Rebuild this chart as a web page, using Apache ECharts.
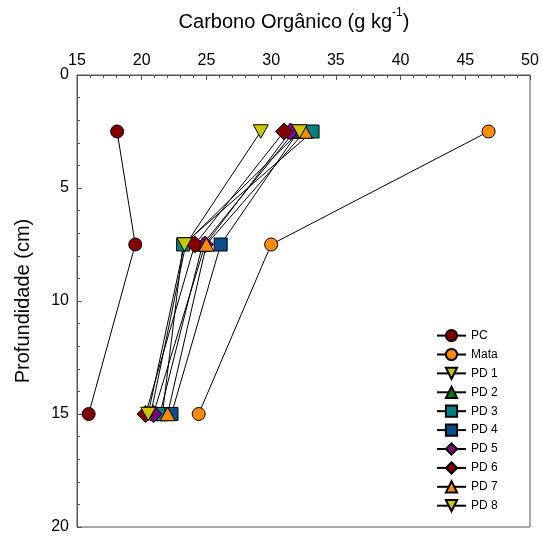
<!DOCTYPE html>
<html>
<head>
<meta charset="utf-8">
<script src="https://cdn.jsdelivr.net/npm/echarts@6/dist/echarts.min.js"></script>
<style>
  html, body { margin: 0; padding: 0; background: #fff; }
  #chart { width: 543px; height: 540px; }
</style>
</head>
<body>
<div id="chart"></div>
<script>
// Depths of the sampled layers (cm)
const depths = [2.5, 7.5, 15];

// Organic carbon (g kg-1) at each depth, per treatment
const seriesNames = ['PC', 'Mata', 'PD 1', 'PD 2', 'PD 3', 'PD 4', 'PD 5', 'PD 6', 'PD 7', 'PD 8'];
const PC   = [18.1, 19.5, 15.9];
const Mata = [46.8, 30.0, 24.4];
const PD1  = [29.2, 23.4, 20.7];
const PD2  = [31.8, 24.7, 21.4];
const PD3  = [33.2, 23.2, 21.6];
const PD4  = [32.1, 26.1, 22.3];
const PD5  = [31.5, 24.9, 20.9];
const PD6  = [31.0, 24.1, 20.3];
const PD7  = [32.6, 25.0, 22.0];
const PD8  = [32.2, 23.3, 20.5];

const xTicks = [15, 20, 25, 30, 35, 40, 45, 50];
const yTicks = [0, 5, 10, 15, 20];

const FONT = 'Liberation Sans, Arial, sans-serif';
const triDown = 'path://M0,0 L10,0 L5,9 Z';
const triUp = 'path://M5,0 L10,9 L0,9 Z';

const styles = [
  { sym: 'circle',  size: 13, color: '#800000' },
  { sym: 'circle',  size: 13, color: '#ff8c00' },
  { sym: triDown,   size: 15, color: '#c8c800' },
  { sym: triUp,     size: 15, color: '#008000' },
  { sym: 'rect',    size: 13, color: '#008080' },
  { sym: 'rect',    size: 13, color: '#0a4f8c' },
  { sym: 'diamond', size: 17, color: '#800080' },
  { sym: 'diamond', size: 17, color: '#800000' },
  { sym: triUp,     size: 15, color: '#ff8c00' },
  { sym: triDown,   size: 15, color: '#c8c800' }
];
const values = [PC, Mata, PD1, PD2, PD3, PD4, PD5, PD6, PD7, PD8];

const series = values.map((vals, i) => ({
  name: seriesNames[i],
  type: 'line',
  data: vals.map((v, j) => [v, depths[j]]),
  symbol: styles[i].sym,
  symbolSize: styles[i].size,
  symbolKeepAspect: true,
  lineStyle: { color: '#000', width: 1 },
  itemStyle: { color: styles[i].color, borderColor: '#000', borderWidth: 1, opacity: 1 },
  emphasis: { disabled: true },
  animation: false
}));

const chart = echarts.init(document.getElementById('chart'), null, { renderer: 'canvas' });
chart.setOption({
  backgroundColor: '#fff',
  animation: false,
  textStyle: { fontFamily: FONT },
  grid: {
    left: 77, top: 75, right: 13, bottom: 13,
    show: true, borderColor: '#555', borderWidth: 1, backgroundColor: 'transparent'
  },
  title: {
    text: '{a|Carbono Orgânico (g kg}{s|-1}{a|)}',
    left: 289, top: 2, textAlign: 'center',
    textStyle: {
      fontWeight: 'normal',
      rich: {
        a: { fontSize: 20, fontWeight: 'normal', color: '#000', fontFamily: FONT, verticalAlign: 'bottom', lineHeight: 25 },
        s: { fontSize: 12, fontWeight: 'normal', color: '#000', fontFamily: FONT, verticalAlign: 'top', lineHeight: 25, padding: [0, 0, 10, 0] }
      }
    }
  },
  legend: {
    orient: 'vertical',
    left: 431, top: 324,
    itemWidth: 29, itemHeight: 14, itemGap: 5.7,
    data: seriesNames,
    textStyle: { fontSize: 12, color: '#000', fontFamily: FONT },
    selectedMode: false
  },
  xAxis: {
    type: 'value', position: 'top',
    min: xTicks[0], max: xTicks[xTicks.length - 1], interval: 5,
    axisLine: { show: true, lineStyle: { color: '#555', width: 1 } },
    axisTick: { show: true, inside: true, length: 5, lineStyle: { color: '#555' } },
    minorTick: { show: true, splitNumber: 5, length: 3, lineStyle: { color: '#555' } },
    splitLine: { show: false },
    axisLabel: { fontSize: 16, color: '#000', margin: 6 }
  },
  yAxis: {
    type: 'value', inverse: true,
    min: yTicks[0], max: yTicks[yTicks.length - 1], interval: 5,
    name: 'Profundidade (cm)', nameLocation: 'middle', nameGap: 44,
    nameTextStyle: { fontSize: 20, color: '#000' },
    axisLine: { show: true, lineStyle: { color: '#555', width: 1 } },
    axisTick: { show: true, inside: true, length: 5, lineStyle: { color: '#555' } },
    minorTick: { show: true, splitNumber: 5, length: 3, lineStyle: { color: '#555' } },
    splitLine: { show: false },
    axisLabel: { fontSize: 16, color: '#000', margin: 8 }
  },
  series: series
});
</script>
</body>
</html>
